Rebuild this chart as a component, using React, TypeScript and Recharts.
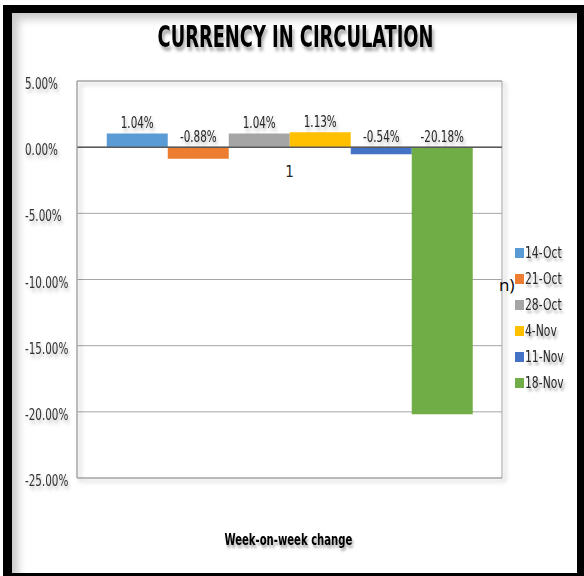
import { BarChart, Bar, XAxis, YAxis, CartesianGrid, ReferenceLine, ReferenceArea, LabelList } from 'recharts'

const CATEGORIES = ['1']
const WEEKS = ['14-Oct', '21-Oct', '28-Oct', '4-Nov', '11-Nov', '18-Nov']
const CHANGES = [1.04, -0.88, 1.04, 1.13, -0.54, -20.18]
const COLORS = ['#5B9BD5', '#ED7D31', '#A5A5A5', '#FFC000', '#4472C4', '#70AD47']
const Y_TICKS = [5, 0, -5, -10, -15, -20, -25]

const FONT = "'DejaVu Sans Condensed', 'Open Sans', sans-serif"
const SHADOW = 'drop-shadow(2px 3px 2px rgba(0,0,0,0.3))'
// the original uses a narrow font, so text is squeezed horizontally
const NARROW = 0.77

const data = CATEGORIES.map((name) => {
  const row: Record<string, string | number> = { name }
  WEEKS.forEach((w, i) => {
    row[w] = CHANGES[i]
  })
  return row
})

const pct = (v: number) => `${Number(v).toFixed(2)}%`

// label sits just above the bar top, or above the zero line for negative bars
const renderBarLabel = (props: any) => {
  const x = Number(props.x)
  const y = Number(props.y)
  const w = Number(props.width)
  const h = Number(props.height)
  const top = Math.min(y, y + h)
  return (
    <text
      transform={`translate(${x + w / 2},${top - 5}) scale(${NARROW},1)`}
      textAnchor="middle"
      fontSize={15}
      fill="#262626"
      fontFamily={FONT}
      style={{ filter: SHADOW }}
    >
      {pct(props.value)}
    </text>
  )
}

// tick labels are left aligned in the original
const YTick = (props: any) => {
  const { x, y, payload } = props
  return (
    <text
      transform={`translate(${Number(x) - 52},${Number(y) + 8}) scale(${NARROW},1)`}
      textAnchor="start"
      fontSize={15}
      fill="#333"
      fontFamily={FONT}
      style={{ filter: SHADOW }}
    >
      {pct(payload.value)}
    </text>
  )
}

const squeezed = (scale: number): React.CSSProperties => ({
  display: 'inline-block',
  transform: `scaleX(${scale})`,
  transformOrigin: 'center',
  whiteSpace: 'nowrap',
})

export default function App() {
  return (
    <div style={{ position: 'relative', width: 584, height: 576, background: '#fff', overflow: 'hidden' }}>
      <style>{'body{margin:0}'}</style>
      <div
        style={{
          position: 'absolute',
          left: 3,
          top: 5,
          width: 581,
          height: 571,
          boxSizing: 'border-box',
          borderStyle: 'solid',
          borderColor: '#000',
          borderWidth: '8px 7px 3px 9px',
          boxShadow: 'inset 9px 9px 9px -3px rgba(0,0,0,0.22)',
        }}
      />
      <div
        style={{
          position: 'absolute',
          left: 4,
          top: 18,
          width: 584,
          textAlign: 'center',
          fontFamily: FONT,
          fontWeight: 'bold',
          fontSize: 31,
          color: '#000',
          textShadow: '3px 4px 4px rgba(0,0,0,0.35)',
        }}
      >
        <span style={squeezed(0.64)}>CURRENCY IN CIRCULATION</span>
      </div>

      <div style={{ position: 'absolute', left: 0, top: 0 }}>
        <BarChart
          width={584}
          height={576}
          data={data}
          margin={{ top: 81, right: 82, bottom: 98, left: 17 }}
          barCategoryGap="7%"
          barGap={0}
        >
          <CartesianGrid vertical={false} stroke="#a6a6a6" />
          <ReferenceArea
            y1={-25}
            y2={5}
            fill="none"
            stroke="#a6a6a6"
            style={{ filter: 'drop-shadow(3px 3px 2px rgba(0,0,0,0.35))' }}
          />
          <XAxis dataKey="name" hide />
          <YAxis
            width={60}
            domain={[-25, 5]}
            ticks={Y_TICKS}
            tick={<YTick />}
            tickLine={false}
            tickSize={0}
            tickMargin={0}
            axisLine={{ stroke: '#a6a6a6' }}
          />
          {WEEKS.map((w, i) => (
            <Bar key={w} dataKey={w} fill={COLORS[i]} isAnimationActive={false}>
              <LabelList dataKey={w} content={renderBarLabel} />
            </Bar>
          ))}
          <ReferenceLine
            y={0}
            stroke="#595959"
            strokeWidth={1.5}
            label={{ value: CATEGORIES[0], position: 'bottom', offset: 19, fill: '#262626', fontSize: 15, fontFamily: FONT }}
          />
        </BarChart>
      </div>

      <div
        style={{
          position: 'absolute',
          left: 499,
          top: 273,
          fontFamily: "'Open Sans', sans-serif",
          fontSize: 17,
          color: '#000',
        }}
      >
        n)
      </div>

      <div style={{ position: 'absolute', left: 515, top: 240 }}>
        {WEEKS.map((w, i) => (
          <div
            key={w}
            style={{
              display: 'flex',
              alignItems: 'center',
              height: 26,
              fontFamily: FONT,
              fontSize: 15,
              color: '#262626',
              textShadow: '2px 3px 3px rgba(0,0,0,0.35)',
            }}
          >
            <span style={{ display: 'inline-block', width: 9, height: 10, background: COLORS[i], marginRight: 1 }} />
            <span style={{ ...squeezed(0.8), transformOrigin: 'left center' }}>{w}</span>
          </div>
        ))}
      </div>

      <div
        style={{
          position: 'absolute',
          left: 0,
          top: 530,
          width: 577,
          textAlign: 'center',
          fontFamily: FONT,
          fontWeight: 'bold',
          fontSize: 16,
          color: '#000',
          textShadow: '2px 3px 3px rgba(0,0,0,0.35)',
        }}
      >
        <span style={squeezed(0.7)}>Week-on-week change</span>
      </div>
    </div>
  )
}
